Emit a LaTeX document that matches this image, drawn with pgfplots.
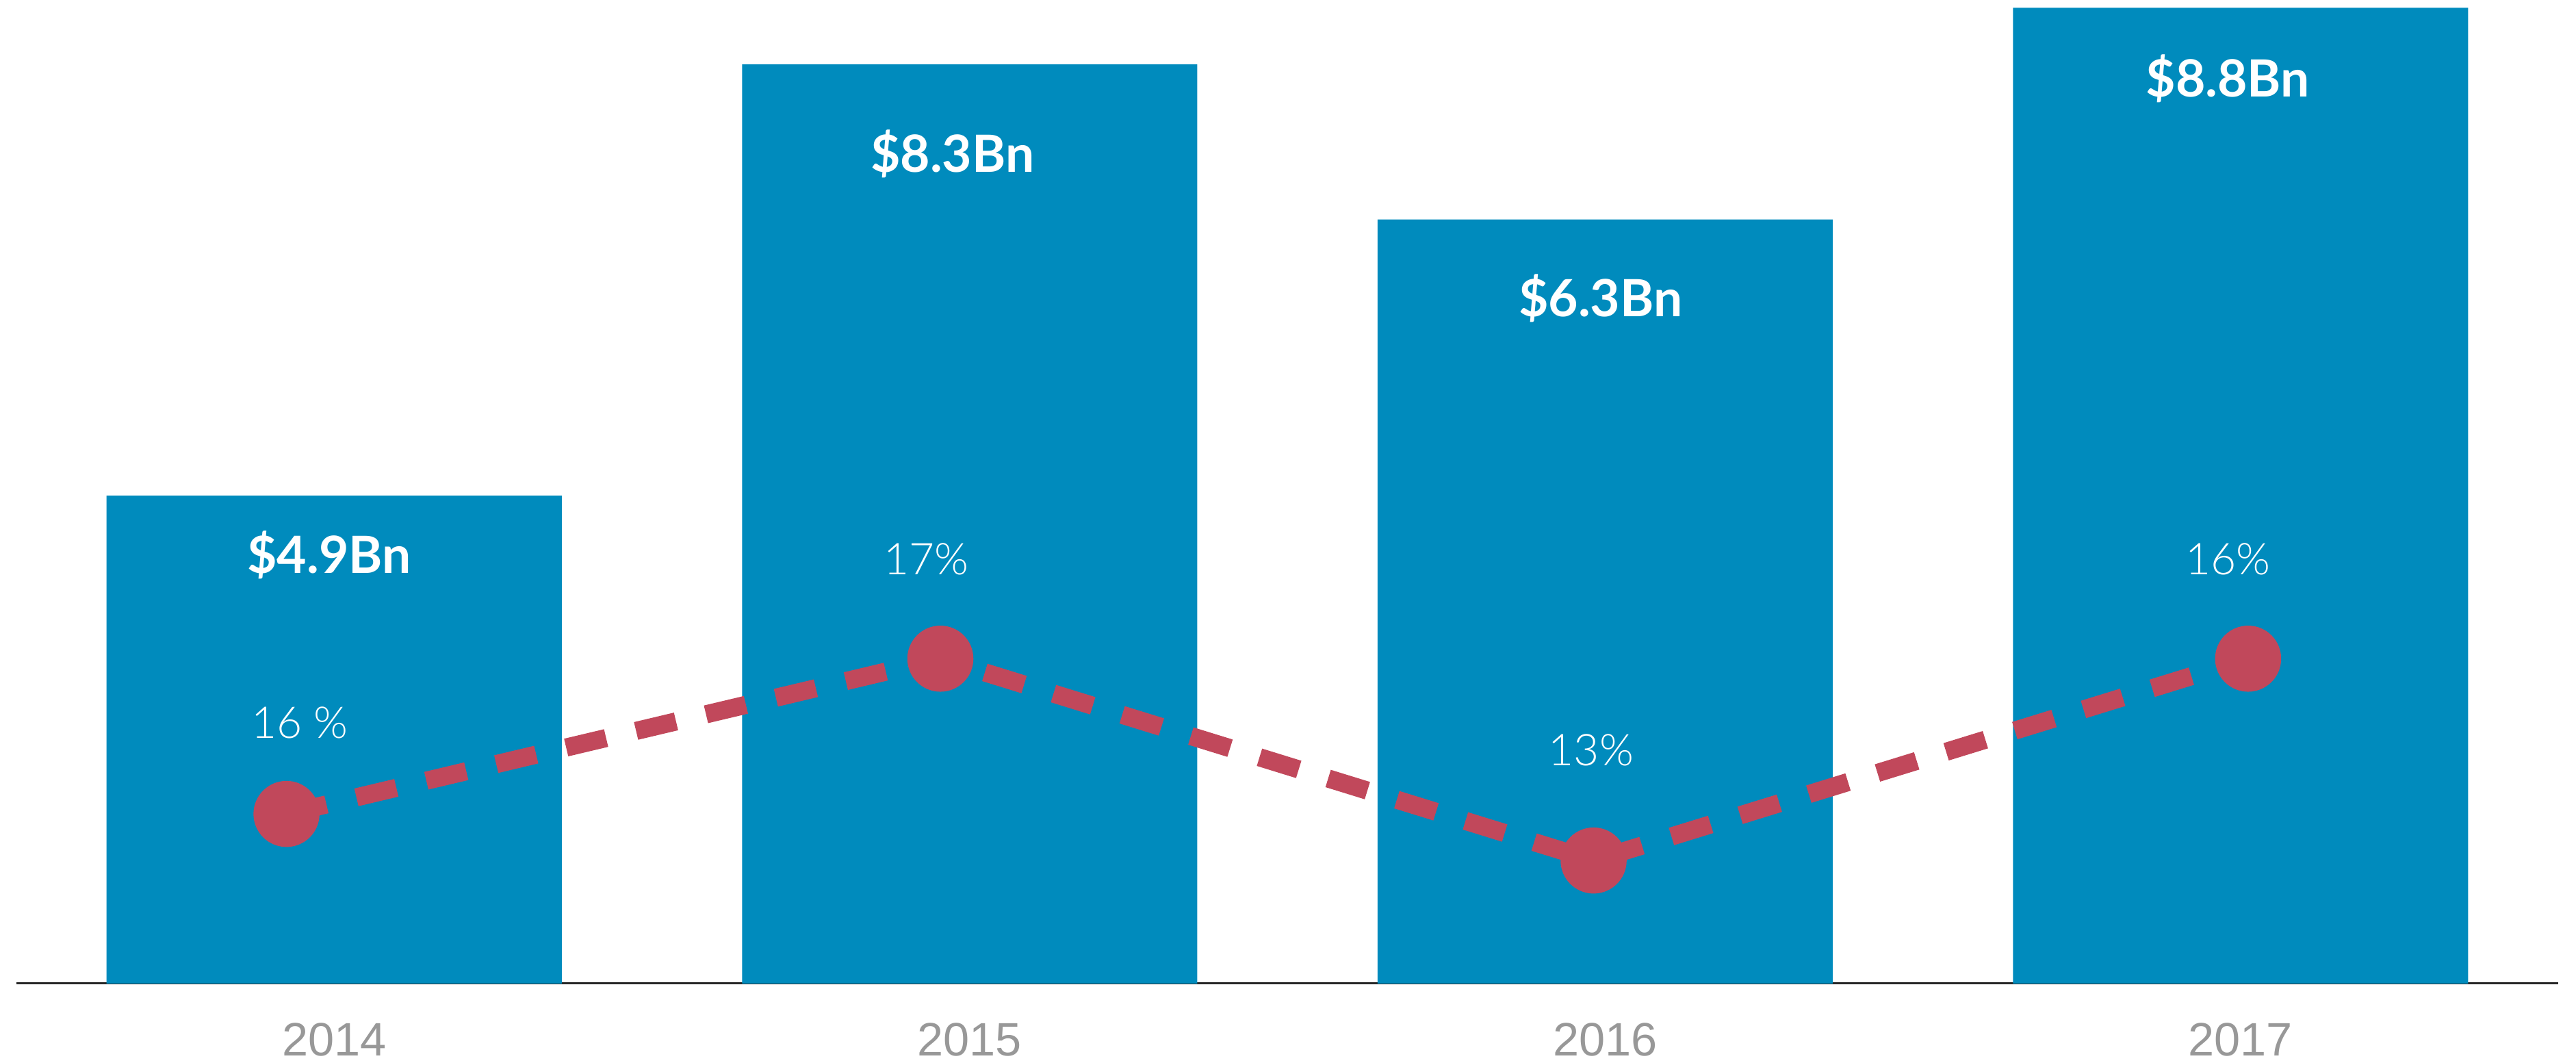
\documentclass[border=0pt]{standalone}
\usepackage{fontspec}
\usepackage{pgfplots}
\pgfplotsset{compat=1.18}
\setmainfont{Liberation Sans}
\newfontfamily\labelfont{Lato}
\newfontfamily\pctfont{Lato Light}
\definecolor{barblue}{HTML}{008BBD}
\definecolor{linered}{HTML}{C1485B}
\definecolor{yeargray}{HTML}{989898}

% bar heights as drawn (same scale as the chart)
\pgfplotstableread{
x h
0 4.40
1 8.29
2 6.89
3 8.80
}\bars
% dot positions of the dashed line
\pgfplotstableread{
x y
-0.075 1.53
0.954 2.93
1.982 1.11
3.012 2.93
}\margin

\begin{document}
\begin{tikzpicture}
\useasboundingbox (-4.8pt,-23.2pt) rectangle (748pt,287.4pt);
\begin{axis}[
  scale only axis,width=742.8pt,height=287.4pt,
  xmin=-0.5,xmax=3.5,ymin=0,ymax=8.87,
  axis x line=bottom,axis y line=none,
  x axis line style={-,line width=0.6pt,color=black!85},
  xtick={0,1,2,3},xticklabels={2014,2015,2016,2017},
  ytick=\empty,
  major tick length=0pt,
  xticklabel style={font=\fontsize{13.7}{16}\selectfont,text=yeargray,anchor=base,yshift=-21.2pt},
  clip=false,
]
  \addplot[ybar,bar width=133pt,fill=barblue,draw=none] table[x=x,y=h]{\bars};
  \addplot[linered,line width=5.3pt,dash pattern=on 12pt off 9pt,
    mark=*,mark size=7pt,mark options={solid,fill=linered,draw=none}] table[x=x,y=y]{\margin};

  \tikzset{big/.style={font=\labelfont\bfseries\fontsize{15}{18}\selectfont,text=white,anchor=base,inner sep=0pt},
           pct/.style={font=\pctfont\fontsize{12.8}{15}\selectfont,text=white,anchor=base,inner sep=0pt}}
  \node[big] at (axis cs:-0.008,3.698) {\$4.9Bn};
  \node[big] at (axis cs:0.973,7.315) {\$8.3Bn};
  \node[big] at (axis cs:1.993,6.012) {\$6.3Bn};
  \node[big] at (axis cs:2.980,7.994) {\$8.8Bn};
  \node[pct] at (axis cs:-0.054,2.21) {16 \%};
  \node[pct] at (axis cs:0.932,3.685) {17\%};
  \node[pct] at (axis cs:1.978,1.963) {13\%};
  \node[pct] at (axis cs:2.980,3.685) {16\%};
\end{axis}
\end{tikzpicture}
\end{document}
